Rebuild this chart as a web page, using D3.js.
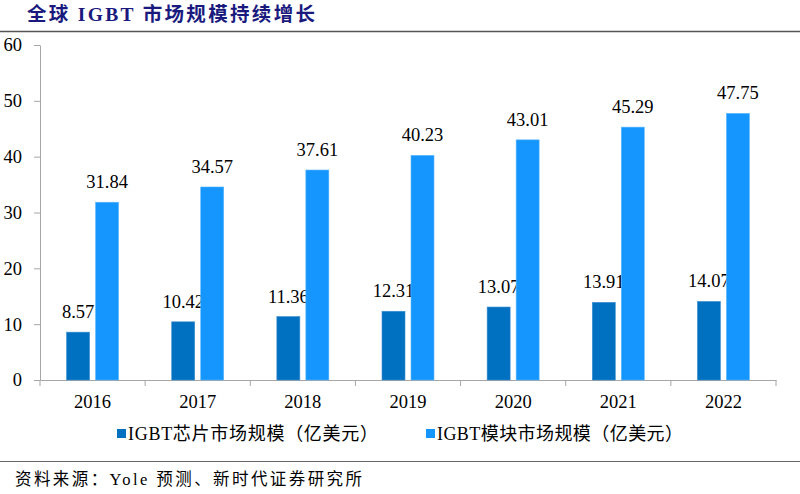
<!DOCTYPE html>
<html><head><meta charset="utf-8">
<script src="https://cdn.jsdelivr.net/npm/d3@7"></script>
<style>body{margin:0;background:#fff}svg{display:block}</style>
</head><body>
<svg id="c" width="800" height="494"></svg>
<script>
const years = ["2016","2017","2018","2019","2020","2021","2022"];
const chipValues = [8.57,10.42,11.36,12.31,13.07,13.91,14.07];
const moduleValues = [31.84,34.57,37.61,40.23,43.01,45.29,47.75];
const seriesNames = ["IGBT芯片市场规模（亿美元）","IGBT模块市场规模（亿美元）"];
const seriesColors = ["#0070C0","#1596FF"];
const yTicks = [0,10,20,30,40,50,60];
const titleText = "全球 IGBT 市场规模持续增长";
const sourceText = "资料来源：Yole 预测、新时代证券研究所";

(function(){
const svg = d3.select("#c");
const serif = "'Liberation Serif','Noto Sans CJK SC',serif";
const pL = 40, pR = 776, pT = 45, pB = 380;

const x = d3.scaleBand().domain(years).range([pL, pR]);
const y = d3.scaleLinear().domain([0,60]).range([pB, pT]);
const barW = 23, gap = 6;

// title
svg.append("text").attr("x",27).attr("y",21)
  .attr("font-family",serif).attr("font-weight","bold")
  .attr("font-size",19.5).attr("fill","#1a1a7e")
  .attr("textLength",288).attr("lengthAdjust","spacing").text(titleText);
svg.append("line").attr("x1",0).attr("x2",800).attr("y1",31.5).attr("y2",31.5)
  .attr("stroke","#555").attr("stroke-width",1.5);

// y axis
const ya = svg.append("g").attr("transform",`translate(${pL},0)`)
  .call(d3.axisLeft(y).tickValues(yTicks).tickSize(6).tickSizeOuter(0).tickPadding(12));
ya.select(".domain").attr("stroke","#a6a6a6");
ya.selectAll(".tick line").attr("stroke","#a6a6a6");
ya.selectAll("text").attr("font-family",serif).attr("font-size",18.5).attr("fill","#000");

// x axis
const xa = svg.append("g").attr("transform",`translate(0,${pB})`)
  .call(d3.axisBottom(x).tickSize(0).tickPadding(15));
xa.select(".domain").attr("stroke","#a6a6a6");
xa.selectAll("text").attr("font-family",serif).attr("font-size",18.5).attr("fill","#000");
const bounds = years.map(d=>x(d)).concat([pR]);
svg.append("g").selectAll("line").data(bounds).join("line")
  .attr("x1",d=>d).attr("x2",d=>d).attr("y1",pB).attr("y2",pB+6)
  .attr("stroke","#a6a6a6");

// bars
const series = [chipValues, moduleValues];
series.forEach((vals, si) => {
  const g = svg.append("g");
  const xpos = (d,i) => x(years[i]) + x.bandwidth()/2 + (si===0 ? -(gap/2+barW) : gap/2);
  g.selectAll("rect").data(vals).join("rect")
    .attr("x", xpos).attr("width", barW)
    .attr("y", d=>y(d)).attr("height", d=>y(0)-y(d))
    .attr("fill", seriesColors[si])
    .attr("stroke", si===0 ? "#3d8fd0" : "#5ab6ff").attr("stroke-width",0.6);
  g.selectAll("text").data(vals).join("text")
    .attr("x",(d,i)=>xpos(d,i)+barW/2).attr("y",d=>y(d)-14)
    .attr("text-anchor","middle").attr("font-family",serif).attr("font-size",18.5)
    .attr("fill","#000").text(d=>d.toFixed(2));
});

// legend
const legX = [117, 426];
const legLen = [250, 246];
seriesNames.forEach((n,i)=>{
  svg.append("rect").attr("x",legX[i]).attr("y",429).attr("width",9).attr("height",9)
    .attr("fill",seriesColors[i]);
  svg.append("text").attr("x",legX[i]+11).attr("y",440)
    .attr("font-family",serif).attr("font-size",18).attr("fill","#000")
    .attr("textLength",legLen[i]).attr("lengthAdjust","spacing").text(n);
});

// source
svg.append("line").attr("x1",0).attr("x2",800).attr("y1",461.5).attr("y2",461.5)
  .attr("stroke","#666").attr("stroke-width",1);
svg.append("text").attr("x",15).attr("y",485)
  .attr("font-family",serif).attr("font-size",16.5).attr("fill","#000")
  .attr("textLength",347).attr("lengthAdjust","spacing").text(sourceText);
})();
</script>
</body></html>
